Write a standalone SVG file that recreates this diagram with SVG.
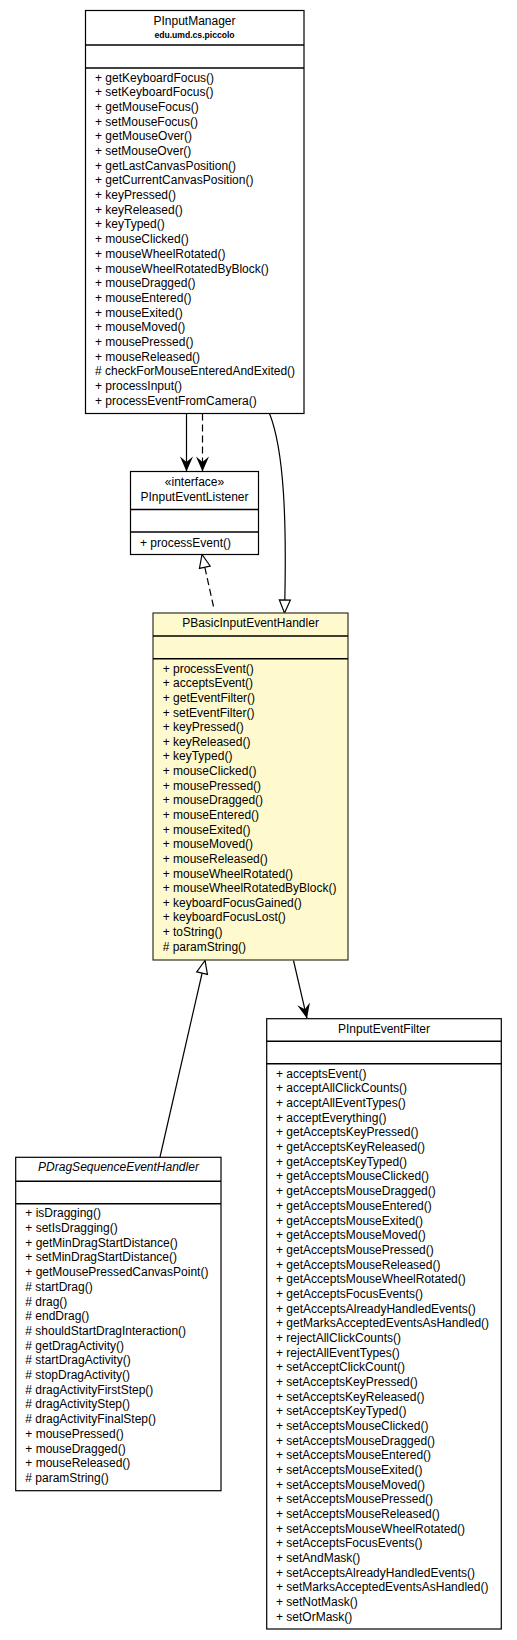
<svg xmlns="http://www.w3.org/2000/svg" width="517" height="1640" viewBox="0 0 517 1640">
<style>
.box{fill:#ffffff;stroke:#000000;stroke-width:1.2}
.ctx{fill:#fffacd;stroke:#333322;stroke-width:1.2}
.div{stroke:#000000;stroke-width:1.4}
text{font-family:"Liberation Sans",Arial,sans-serif;font-size:12px;fill:#000000}
.t{text-anchor:middle}
.pkg{font-size:8.6px;font-weight:bold;text-anchor:middle}
.it{font-style:italic;text-anchor:middle}
.ln{fill:none;stroke:#000000;stroke-width:1.2}
.dash{stroke-dasharray:7,4}
</style>
<defs>
<marker id="vee" viewBox="-16 -8 17 16" markerWidth="17" markerHeight="16" refX="0" refY="0" orient="auto" markerUnits="userSpaceOnUse">
<path d="M0,0 L-15,-6.5 L-9.5,0 L-15,6.5 Z" fill="#000000"/>
</marker>
<marker id="tri" viewBox="-15 -8 16 16" markerWidth="16" markerHeight="16" refX="0" refY="0" orient="auto" markerUnits="userSpaceOnUse">
<path d="M0,0 L-13,-5.5 L-13,5.5 Z" fill="#ffffff" stroke="#000000" stroke-width="1.2"/>
</marker>
</defs>
<rect width="517" height="1640" fill="#ffffff"/>

<g id="connectors">
<path class="ln" d="M186.5,413.5 L186.5,471.5" marker-end="url(#vee)"/>
<path class="ln dash" d="M202.5,413.5 L202.5,471.5" marker-end="url(#vee)"/>
<path class="ln" d="M269.5,413.5 C284,450 287,520 284.5,613" marker-end="url(#tri)"/>
<path class="ln dash" d="M213.5,606.5 L202,554.5" marker-end="url(#tri)"/>
<path class="ln" d="M160,1157 L205,960.5" marker-end="url(#tri)"/>
<path class="ln" d="M293.5,960.5 L307,1018.5" marker-end="url(#vee)"/>
</g>

<g id="PInputManager">
<rect class="box" x="85.5" y="10.5" width="218.5" height="403"/>
<line class="div" x1="85.5" y1="45" x2="304" y2="45"/>
<line class="div" x1="85.5" y1="68" x2="304" y2="68"/>
<text class="t" x="194.5" y="25.3">PInputManager</text>
<text class="pkg" x="194.5" y="37.7">edu.umd.cs.piccolo</text>
<text x="95" y="81.7">
<tspan x="95" dy="0">+ getKeyboardFocus()</tspan>
<tspan x="95" dy="14.68">+ setKeyboardFocus()</tspan>
<tspan x="95" dy="14.68">+ getMouseFocus()</tspan>
<tspan x="95" dy="14.68">+ setMouseFocus()</tspan>
<tspan x="95" dy="14.68">+ getMouseOver()</tspan>
<tspan x="95" dy="14.68">+ setMouseOver()</tspan>
<tspan x="95" dy="14.68">+ getLastCanvasPosition()</tspan>
<tspan x="95" dy="14.68">+ getCurrentCanvasPosition()</tspan>
<tspan x="95" dy="14.68">+ keyPressed()</tspan>
<tspan x="95" dy="14.68">+ keyReleased()</tspan>
<tspan x="95" dy="14.68">+ keyTyped()</tspan>
<tspan x="95" dy="14.68">+ mouseClicked()</tspan>
<tspan x="95" dy="14.68">+ mouseWheelRotated()</tspan>
<tspan x="95" dy="14.68">+ mouseWheelRotatedByBlock()</tspan>
<tspan x="95" dy="14.68">+ mouseDragged()</tspan>
<tspan x="95" dy="14.68">+ mouseEntered()</tspan>
<tspan x="95" dy="14.68">+ mouseExited()</tspan>
<tspan x="95" dy="14.68">+ mouseMoved()</tspan>
<tspan x="95" dy="14.68">+ mousePressed()</tspan>
<tspan x="95" dy="14.68">+ mouseReleased()</tspan>
<tspan x="95" dy="14.68"># checkForMouseEnteredAndExited()</tspan>
<tspan x="95" dy="14.68">+ processInput()</tspan>
<tspan x="95" dy="14.68">+ processEventFromCamera()</tspan>
</text>
</g>

<g id="PInputEventListener">
<rect class="box" x="130.5" y="471.5" width="128" height="83"/>
<line class="div" x1="130.5" y1="509.5" x2="258.5" y2="509.5"/>
<line class="div" x1="130.5" y1="532" x2="258.5" y2="532"/>
<text class="t" x="194.5" y="485.7">«interface»</text>
<text class="t" x="194.5" y="501">PInputEventListener</text>
<text x="140" y="546.5">+ processEvent()</text>
</g>

<g id="PBasicInputEventHandler">
<rect class="ctx" x="153" y="613" width="195" height="347"/>
<line class="div" x1="153" y1="636" x2="348" y2="636"/>
<line class="div" x1="153" y1="658.7" x2="348" y2="658.7"/>
<text class="t" x="250.5" y="627">PBasicInputEventHandler</text>
<text x="162.7" y="672.7">
<tspan x="162.7" dy="0">+ processEvent()</tspan>
<tspan x="162.7" dy="14.63">+ acceptsEvent()</tspan>
<tspan x="162.7" dy="14.63">+ getEventFilter()</tspan>
<tspan x="162.7" dy="14.63">+ setEventFilter()</tspan>
<tspan x="162.7" dy="14.63">+ keyPressed()</tspan>
<tspan x="162.7" dy="14.63">+ keyReleased()</tspan>
<tspan x="162.7" dy="14.63">+ keyTyped()</tspan>
<tspan x="162.7" dy="14.63">+ mouseClicked()</tspan>
<tspan x="162.7" dy="14.63">+ mousePressed()</tspan>
<tspan x="162.7" dy="14.63">+ mouseDragged()</tspan>
<tspan x="162.7" dy="14.63">+ mouseEntered()</tspan>
<tspan x="162.7" dy="14.63">+ mouseExited()</tspan>
<tspan x="162.7" dy="14.63">+ mouseMoved()</tspan>
<tspan x="162.7" dy="14.63">+ mouseReleased()</tspan>
<tspan x="162.7" dy="14.63">+ mouseWheelRotated()</tspan>
<tspan x="162.7" dy="14.63">+ mouseWheelRotatedByBlock()</tspan>
<tspan x="162.7" dy="14.63">+ keyboardFocusGained()</tspan>
<tspan x="162.7" dy="14.63">+ keyboardFocusLost()</tspan>
<tspan x="162.7" dy="14.63">+ toString()</tspan>
<tspan x="162.7" dy="14.63"># paramString()</tspan>
</text>
</g>

<g id="PInputEventFilter">
<rect class="box" x="266.7" y="1018.7" width="234.6" height="610.3"/>
<line class="div" x1="266.7" y1="1041.3" x2="501.3" y2="1041.3"/>
<line class="div" x1="266.7" y1="1063.7" x2="501.3" y2="1063.7"/>
<text class="t" x="384" y="1033">PInputEventFilter</text>
<text x="276" y="1077.7">
<tspan x="276" dy="0">+ acceptsEvent()</tspan>
<tspan x="276" dy="14.68">+ acceptAllClickCounts()</tspan>
<tspan x="276" dy="14.68">+ acceptAllEventTypes()</tspan>
<tspan x="276" dy="14.68">+ acceptEverything()</tspan>
<tspan x="276" dy="14.68">+ getAcceptsKeyPressed()</tspan>
<tspan x="276" dy="14.68">+ getAcceptsKeyReleased()</tspan>
<tspan x="276" dy="14.68">+ getAcceptsKeyTyped()</tspan>
<tspan x="276" dy="14.68">+ getAcceptsMouseClicked()</tspan>
<tspan x="276" dy="14.68">+ getAcceptsMouseDragged()</tspan>
<tspan x="276" dy="14.68">+ getAcceptsMouseEntered()</tspan>
<tspan x="276" dy="14.68">+ getAcceptsMouseExited()</tspan>
<tspan x="276" dy="14.68">+ getAcceptsMouseMoved()</tspan>
<tspan x="276" dy="14.68">+ getAcceptsMousePressed()</tspan>
<tspan x="276" dy="14.68">+ getAcceptsMouseReleased()</tspan>
<tspan x="276" dy="14.68">+ getAcceptsMouseWheelRotated()</tspan>
<tspan x="276" dy="14.68">+ getAcceptsFocusEvents()</tspan>
<tspan x="276" dy="14.68">+ getAcceptsAlreadyHandledEvents()</tspan>
<tspan x="276" dy="14.68">+ getMarksAcceptedEventsAsHandled()</tspan>
<tspan x="276" dy="14.68">+ rejectAllClickCounts()</tspan>
<tspan x="276" dy="14.68">+ rejectAllEventTypes()</tspan>
<tspan x="276" dy="14.68">+ setAcceptClickCount()</tspan>
<tspan x="276" dy="14.68">+ setAcceptsKeyPressed()</tspan>
<tspan x="276" dy="14.68">+ setAcceptsKeyReleased()</tspan>
<tspan x="276" dy="14.68">+ setAcceptsKeyTyped()</tspan>
<tspan x="276" dy="14.68">+ setAcceptsMouseClicked()</tspan>
<tspan x="276" dy="14.68">+ setAcceptsMouseDragged()</tspan>
<tspan x="276" dy="14.68">+ setAcceptsMouseEntered()</tspan>
<tspan x="276" dy="14.68">+ setAcceptsMouseExited()</tspan>
<tspan x="276" dy="14.68">+ setAcceptsMouseMoved()</tspan>
<tspan x="276" dy="14.68">+ setAcceptsMousePressed()</tspan>
<tspan x="276" dy="14.68">+ setAcceptsMouseReleased()</tspan>
<tspan x="276" dy="14.68">+ setAcceptsMouseWheelRotated()</tspan>
<tspan x="276" dy="14.68">+ setAcceptsFocusEvents()</tspan>
<tspan x="276" dy="14.68">+ setAndMask()</tspan>
<tspan x="276" dy="14.68">+ setAcceptsAlreadyHandledEvents()</tspan>
<tspan x="276" dy="14.68">+ setMarksAcceptedEventsAsHandled()</tspan>
<tspan x="276" dy="14.68">+ setNotMask()</tspan>
<tspan x="276" dy="14.68">+ setOrMask()</tspan>
</text>
</g>

<g id="PDragSequenceEventHandler">
<rect class="box" x="15.7" y="1157.3" width="205.3" height="333.4"/>
<line class="div" x1="15.7" y1="1181.3" x2="221" y2="1181.3"/>
<line class="div" x1="15.7" y1="1203.7" x2="221" y2="1203.7"/>
<text class="it" x="118.5" y="1170.7">PDragSequenceEventHandler</text>
<text x="25.3" y="1217.3">
<tspan x="25.3" dy="0">+ isDragging()</tspan>
<tspan x="25.3" dy="14.7">+ setIsDragging()</tspan>
<tspan x="25.3" dy="14.7">+ getMinDragStartDistance()</tspan>
<tspan x="25.3" dy="14.7">+ setMinDragStartDistance()</tspan>
<tspan x="25.3" dy="14.7">+ getMousePressedCanvasPoint()</tspan>
<tspan x="25.3" dy="14.7"># startDrag()</tspan>
<tspan x="25.3" dy="14.7"># drag()</tspan>
<tspan x="25.3" dy="14.7"># endDrag()</tspan>
<tspan x="25.3" dy="14.7"># shouldStartDragInteraction()</tspan>
<tspan x="25.3" dy="14.7"># getDragActivity()</tspan>
<tspan x="25.3" dy="14.7"># startDragActivity()</tspan>
<tspan x="25.3" dy="14.7"># stopDragActivity()</tspan>
<tspan x="25.3" dy="14.7"># dragActivityFirstStep()</tspan>
<tspan x="25.3" dy="14.7"># dragActivityStep()</tspan>
<tspan x="25.3" dy="14.7"># dragActivityFinalStep()</tspan>
<tspan x="25.3" dy="14.7">+ mousePressed()</tspan>
<tspan x="25.3" dy="14.7">+ mouseDragged()</tspan>
<tspan x="25.3" dy="14.7">+ mouseReleased()</tspan>
<tspan x="25.3" dy="14.7"># paramString()</tspan>
</text>
</g>
</svg>
